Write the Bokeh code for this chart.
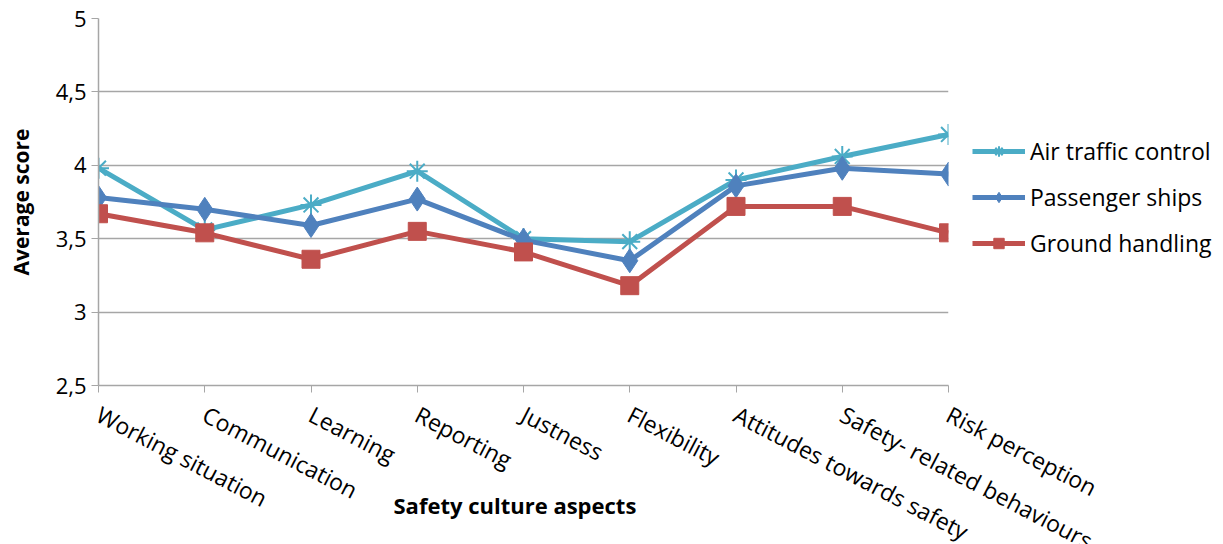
from bokeh.plotting import figure
from bokeh.models import Range1d, FixedTicker, Legend, LegendItem, Title
from bokeh.embed import file_html
from bokeh.resources import INLINE

categories = ["Working situation", "Communication", "Learning", "Reporting", "Justness",
              "Flexibility", "Attitudes towards safety", "Safety- related behaviours", "Risk perception"]
air_traffic_control = [3.98, 3.56, 3.73, 3.96, 3.50, 3.48, 3.90, 4.06, 4.21]
passenger_ships = [3.78, 3.70, 3.59, 3.77, 3.49, 3.35, 3.86, 3.98, 3.94]
ground_handling = [3.67, 3.54, 3.36, 3.55, 3.41, 3.18, 3.72, 3.72, 3.54]
y_ticks = [2.5, 3.0, 3.5, 4.0, 4.5, 5.0]
y_tick_labels = ["2,5", "3", "3,5", "4", "4,5", "5"]

FONT = "Open Sans"
xs = list(range(len(categories)))

p = figure(frame_width=850, frame_height=367, output_backend="svg", toolbar_location=None,
           x_range=Range1d(0, len(categories) - 1), y_range=Range1d(2.5, 5),
           min_border_left=98, min_border_top=18, min_border_bottom=10, min_border_right=10)
p.outline_line_color = None
p.background_fill_color = "white"
p.border_fill_color = "white"

p.xgrid.grid_line_color = None
p.ygrid.grid_line_color = "#a6a6a6"
p.ygrid.grid_line_width = 1.3

p.yaxis.ticker = FixedTicker(ticks=y_ticks)
p.yaxis.major_label_overrides = {t: l for t, l in zip(y_ticks, y_tick_labels)}
p.yaxis.minor_tick_line_color = None
p.yaxis.axis_line_color = "#a6a6a6"
p.yaxis.axis_line_width = 1.5
p.yaxis.major_tick_line_color = "#a6a6a6"
p.yaxis.major_tick_out = 7
p.yaxis.major_tick_in = 0
p.yaxis.major_label_text_font = FONT
p.yaxis.major_label_text_font_size = "22px"
p.yaxis.major_label_text_color = "#000000"
p.yaxis.major_label_standoff = 5
p.yaxis.axis_label = "Average score"
p.yaxis.axis_label_text_font = FONT
p.yaxis.axis_label_text_font_size = "21px"
p.yaxis.axis_label_text_font_style = "bold"
p.yaxis.axis_label_text_color = "#000000"
p.yaxis.axis_label_standoff = 18

p.xaxis.ticker = FixedTicker(ticks=xs)
p.xaxis.major_label_overrides = {i: c for i, c in zip(xs, categories)}
p.xaxis.minor_tick_line_color = None
p.xaxis.axis_line_color = "#a6a6a6"
p.xaxis.axis_line_width = 1.5
p.xaxis.major_tick_line_color = "#a6a6a6"
p.xaxis.major_tick_out = 7
p.xaxis.major_tick_in = 0
p.xaxis.major_label_orientation = -0.48
p.xaxis.major_label_text_font = FONT
p.xaxis.major_label_text_font_size = "23px"
p.xaxis.major_label_text_color = "#000000"
p.xaxis.major_label_standoff = 20

series = [
    ("Air traffic control", air_traffic_control, "#4BACC6", "asterisk", 21),
    ("Passenger ships", passenger_ships, "#4F81BD", "diamond", 24),
    ("Ground handling", ground_handling, "#C0504D", "square", 18),
]
items = []
for name, vals, color, marker, size in series:
    ln = p.line(xs, vals, line_color=color, line_width=5)
    sc = p.scatter(xs, vals, marker=marker, size=size, fill_color=color,
                   line_color=color, line_width=2 if marker == "asterisk" else 1)
    items.append(LegendItem(label=name, renderers=[ln, sc]))

legend = Legend(items=items, location=(24, 126), border_line_color=None,
                background_fill_alpha=0, label_text_font=FONT, label_text_font_size="23px",
                label_text_color="#000000", glyph_width=53, glyph_height=26, spacing=14,
                label_standoff=5, padding=0, margin=0)
p.add_layout(legend, "right")

xtitle = Title(text="Safety culture aspects", align="left", offset=295, vertical_align="top",
               standoff=-168, text_font=FONT, text_font_size="22px", text_font_style="bold",
               text_color="#000000")
p.add_layout(xtitle, "below")

open("out.html", "w").write(file_html(p, INLINE))
